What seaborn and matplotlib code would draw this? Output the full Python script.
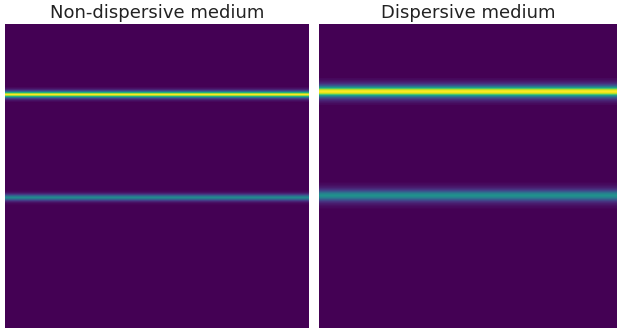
import numpy as np
import pandas as pd
import matplotlib
matplotlib.use("Agg")
import matplotlib.pyplot as plt
import seaborn as sns

# rows of the image (top -> bottom) and columns (the profile is the same in every column)
n_rows = 304
n_cols = 60

titles = ["Non-dispersive medium", "Dispersive medium"]

# band centres (row index) and intensity profiles
left_centers = [70, 173]
left_band_1 = [0.02, 0.05, 0.10, 0.20, 0.38, 0.62, 0.86, 1.00, 0.86, 0.62, 0.38, 0.20, 0.10, 0.05, 0.02]
left_band_2 = [0.01, 0.02, 0.05, 0.10, 0.18, 0.30, 0.41, 0.47, 0.41, 0.30, 0.18, 0.10, 0.05, 0.02, 0.01]

right_centers = [67, 171]
right_band_1 = [0.02, 0.03, 0.05, 0.07, 0.10, 0.14, 0.20, 0.28, 0.40, 0.55, 0.72, 0.88, 0.97,
                1.00, 0.97, 0.88, 0.72, 0.55, 0.40, 0.28, 0.20, 0.14, 0.10, 0.07, 0.05, 0.03, 0.02]
right_band_2 = [0.01, 0.02, 0.03, 0.04, 0.06, 0.08, 0.11, 0.15, 0.21, 0.28, 0.36, 0.43, 0.48,
                0.50, 0.48, 0.43, 0.36, 0.28, 0.21, 0.15, 0.11, 0.08, 0.06, 0.04, 0.03, 0.02, 0.01]


def build_image(centers, bands):
    profile = np.zeros(n_rows)
    for c, band in zip(centers, bands):
        half = len(band) // 2
        profile[c - half:c - half + len(band)] += band
    return pd.DataFrame(np.repeat(profile[:, None], n_cols, axis=1))


images = [
    build_image(left_centers, [left_band_1, left_band_2]),
    build_image(right_centers, [right_band_1, right_band_2]),
]

fig = plt.figure(figsize=(6.18, 3.29), dpi=100)
W, H = 618, 329
boxes = [(5, 24, 304, 304), (319, 24, 298, 304)]

for img, title, (x0, y0, w, h) in zip(images, titles, boxes):
    ax = fig.add_axes([x0 / W, 1 - (y0 + h) / H, w / W, h / H])
    sns.heatmap(img, ax=ax, cmap="viridis", cbar=False,
                xticklabels=False, yticklabels=False)
    ax.set_title(title, fontsize=13, color="#222222", pad=4)
    ax.axis("off")

fig.savefig("out.png", dpi=100)
